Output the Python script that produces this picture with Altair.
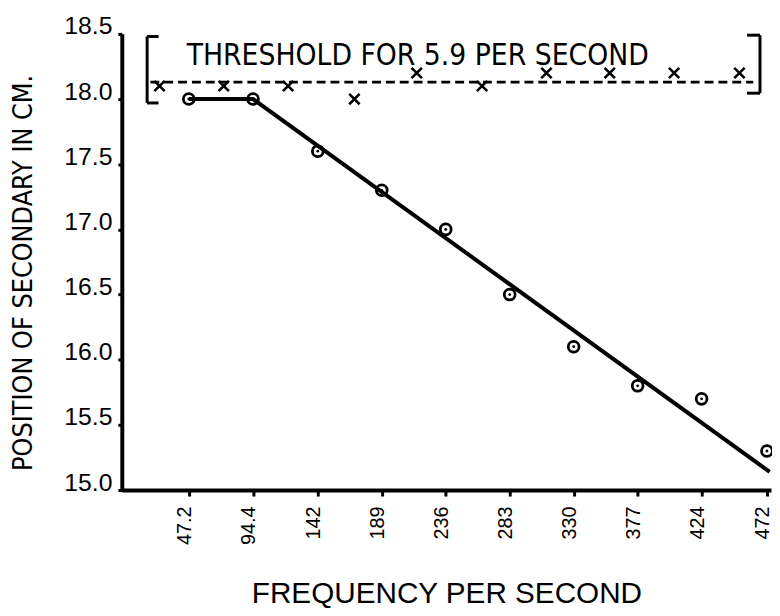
import altair as alt
import pandas as pd

# Measured points (circles)
freq = [47.2, 94.4, 142, 189, 236, 283, 330, 377, 424, 472]
position = [18.0, 18.0, 17.6, 17.3, 17.0, 16.5, 16.1, 15.8, 15.7, 15.3]

# Fitted line
fit_freq = [47.2, 94.4, 474]
fit_pos = [18.0, 18.0, 15.14]

# Threshold crosses
thr_freq = [25.7, 72.9, 120.2, 168.9, 214.7, 262.7, 310, 356.5, 403.8, 451.8]
thr_pos = [18.1, 18.1, 18.1, 18.0, 18.2, 18.1, 18.2, 18.2, 18.2, 18.2]

# Threshold dashed line
thr_line_freq = [19, 462]
thr_line_pos = [18.13, 18.13]

# Bracket segments around the threshold label
br_x = [16.6, 16.6, 16.6, 466.9, 457.4, 457.4]
br_x2 = [16.6, 25, 25, 466.9, 466.9, 466.9]
br_y = [17.97, 18.48, 17.97, 18.045, 18.49, 18.045]
br_y2 = [18.48, 18.48, 17.97, 18.49, 18.49, 18.045]

label_text = ["THRESHOLD FOR 5.9 PER SECOND"]
label_freq = [215.4]
label_pos = [18.33]

x_ticks = [47.2, 94.4, 142, 189, 236, 283, 330, 377, 424, 472]
y_ticks = [15.0, 15.5, 16.0, 16.5, 17.0, 17.5, 18.0, 18.5]

FONT = "Liberation Sans"
NARROW = "DejaVu Sans Condensed, Liberation Sans"

xs = alt.Scale(domain=[-2, 475], nice=False, zero=False)
ys = alt.Scale(domain=[15.0, 18.5], nice=False, zero=False)

pts = pd.DataFrame({"f": freq, "p": position})
fit = pd.DataFrame({"f": fit_freq, "p": fit_pos})
thr = pd.DataFrame({"f": thr_freq, "p": thr_pos})
thl = pd.DataFrame({"f": thr_line_freq, "p": thr_line_pos})
br = pd.DataFrame({"x": br_x, "x2": br_x2, "y": br_y, "y2": br_y2})
lab = pd.DataFrame({"t": label_text, "f": label_freq, "p": label_pos})

x_axis = alt.Axis(
    values=x_ticks, labelExpr="format(datum.value, '~r')", labelAngle=270,
    title="FREQUENCY PER SECOND",
    titleFont="Liberation Sans", titleFontSize=30, titleFontWeight="normal",
    titleBaseline="alphabetic", titleY=114, labelPadding=10, tickSize=6,
    labelFont=FONT, labelFontSize=20, labelOffset=-4,
)
y_axis = alt.Axis(
    values=y_ticks, format=".1f", title="POSITION OF SECONDARY IN CM.",
    titleFont=NARROW, titleFontSize=27, titleFontWeight="normal",
    titleAngle=270, titleBaseline="middle", titleX=-99, titleY=241,
    labelPadding=6, tickSize=4, labelBaseline="alphabetic",
    labelFont=FONT, labelFontSize=25,
)

line = alt.Chart(fit).mark_line(color="black", strokeWidth=4).encode(
    x=alt.X("f:Q", scale=xs, axis=x_axis),
    y=alt.Y("p:Q", scale=ys, axis=y_axis),
)

circles = alt.Chart(pts).mark_point(
    shape="circle", filled=False, size=120, strokeWidth=2.8, color="black", opacity=1
).encode(x=alt.X("f:Q", scale=xs), y=alt.Y("p:Q", scale=ys))

dots = alt.Chart(pts).mark_point(
    shape="circle", filled=True, size=8, color="black", opacity=1
).encode(x=alt.X("f:Q", scale=xs), y=alt.Y("p:Q", scale=ys))

crosses = alt.Chart(thr).mark_point(
    shape="M-1,-1L1,1M1,-1L-1,1", filled=False, size=110, strokeWidth=2.6,
    color="black", opacity=1
).encode(x=alt.X("f:Q", scale=xs), y=alt.Y("p:Q", scale=ys))

dashed = alt.Chart(thl).mark_line(
    color="black", strokeWidth=2.6, strokeDash=[9, 5]
).encode(x=alt.X("f:Q", scale=xs), y=alt.Y("p:Q", scale=ys))

brackets = alt.Chart(br).mark_rule(color="black", strokeWidth=3).encode(
    x=alt.X("x:Q", scale=xs), x2="x2:Q",
    y=alt.Y("y:Q", scale=ys), y2="y2:Q",
)

text = alt.Chart(lab).mark_text(
    font=NARROW, fontSize=30, color="black", align="center", baseline="middle"
).encode(x=alt.X("f:Q", scale=xs), y=alt.Y("p:Q", scale=ys), text="t:N")

chart = alt.layer(line, dashed, brackets, crosses, circles, dots, text).properties(
    width=656, height=461,
    autosize=alt.AutoSizeParams(type="none"),
    padding={"left": 115, "top": 23, "right": 1, "bottom": 116},
    background="white",
).configure_view(stroke=None).configure_axis(
    domainColor="black", domainWidth=4, tickColor="black", tickWidth=3,
    grid=False, labelColor="black", titleColor="black",
)

chart.save("out.html", embed_options={"renderer": "svg", "actions": False})
